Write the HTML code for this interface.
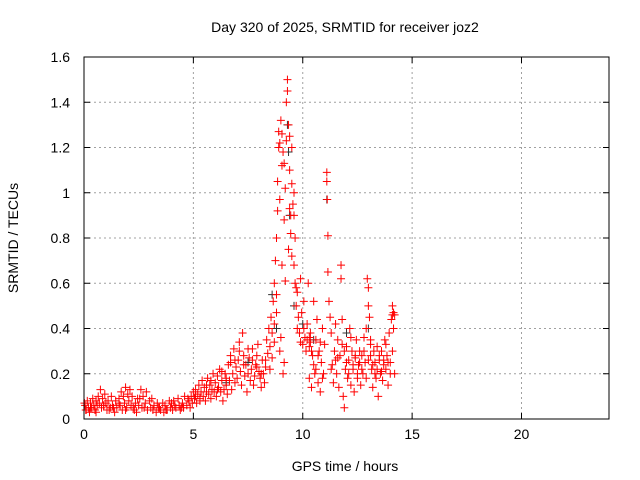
<!DOCTYPE html>
<html><head><meta charset="utf-8"><style>
body{margin:0;background:#fff}
svg{display:block;font-family:"Liberation Sans",sans-serif}
</style></head><body>
<svg id="chart" width="640" height="480">
<text x="345" y="32" text-anchor="middle" font-size="14">Day 320 of 2025, SRMTID for receiver joz2</text>
<text x="345" y="471" text-anchor="middle" font-size="14">GPS time / hours</text>
<text transform="translate(18,238) rotate(-90)" text-anchor="middle" font-size="14">SRMTID / TECUs</text>
<g id="grid"></g><g id="black"></g><g id="red"></g>
<rect x="84" y="57" width="525" height="362" fill="none" stroke="#000" stroke-width="1"/>
<g id="ticks"></g>
</svg>
<script>
const xTicks=[0,5,10,15,20];
const yTicks=[0,0.2,0.4,0.6,0.8,1,1.2,1.4,1.6];
const yTickLabels=["0","0.2","0.4","0.6","0.8","1","1.2","1.4","1.6"];
const redT=[0.02,0.05,0.1,0.15,0.2,0.25,0.3,0.35,0.4,0.45,0.5,0.55,0.6,0.65,0.7,0.75,0.8,0.85,0.9,0.95,1.0,
1.05,1.1,1.2,1.25,1.3,1.4,1.45,1.5,1.6,1.65,1.7,1.75,1.8,1.85,1.9,1.95,2.0,
2.05,2.1,2.15,2.2,2.3,2.35,2.4,2.5,2.55,2.6,2.65,2.7,2.8,2.85,2.9,3.0,
3.05,3.1,3.2,3.3,3.35,3.4,3.5,3.6,3.65,3.7,3.8,3.9,3.95,4.0,
4.05,4.1,4.2,4.3,4.35,4.4,4.5,4.55,4.6,4.7,4.8,4.85,4.9,4.95,5.0,
5.05,5.1,5.15,5.2,5.25,5.3,5.35,5.4,5.45,5.5,5.55,5.6,5.65,5.7,5.75,5.8,5.85,5.9,5.95,6.0,
6.05,6.1,6.15,6.2,6.25,6.3,6.35,6.4,6.45,6.5,6.55,6.6,6.65,6.7,6.75,6.8,6.85,6.9,6.95,7.0,
7.05,7.1,7.15,7.2,7.25,7.3,7.35,7.4,7.45,7.5,7.55,7.6,7.65,7.7,7.75,7.8,7.85,7.9,7.95,8.0,
8.05,8.1,8.15,8.2,8.25,8.3,8.35,8.4,8.45,8.5,8.55,8.6,
8.6,8.65,8.7,8.7,8.75,8.8,8.8,8.85,8.85,8.9,8.9,8.95,8.95,9.0,9.0,9.05,9.05,9.1,9.1,9.15,9.15,9.2,9.2,9.25,9.3,9.3,9.35,9.35,9.4,9.4,9.45,9.45,9.5,9.5,9.55,9.6,9.6,9.65,9.65,9.7,9.7,
9.75,9.8,9.85,9.9,9.95,10.0,10.05,10.1,10.15,10.2,10.25,10.3,
10.3,10.35,10.4,10.45,10.5,10.55,10.6,10.65,10.7,10.75,10.8,10.85,10.9,10.95,11.0,
11.1,11.1,11.12,11.15,11.15,11.2,11.25,11.3,11.35,11.4,11.45,11.5,
11.55,11.6,11.65,11.7,11.75,11.75,11.8,11.85,11.9,11.95,12.0,12.05,12.1,12.15,12.2,12.25,12.3,12.35,12.4,12.45,12.5,
12.55,12.6,12.65,12.7,12.75,12.8,12.85,12.9,12.95,13.0,13.0,13.05,13.1,13.1,13.15,13.2,13.25,13.3,13.35,13.4,13.45,13.5,
13.55,13.6,13.65,13.7,13.75,13.8,13.85,13.9,13.95,14.0,14.05,14.1,14.1,14.15,14.15,14.2,14.2,
0.08,0.3,0.55,0.9,1.15,1.35,1.6,1.9,2.25,2.45,2.75,3.15,3.45,3.75,4.15,4.45,4.75,
5.1,5.3,5.6,5.8,6.1,6.3,6.5,6.7,6.9,7.1,7.3,7.5,7.7,7.9,8.1,8.3,8.5,
8.7,8.8,8.95,9.05,9.15,9.25,9.4,9.5,9.6,9.75,9.9,10.05,10.2,10.3,10.35,10.4,10.5,10.6,10.7,10.8,10.9,
11.3,11.5,11.6,11.8,11.9,12.0,12.1,12.2,12.3,12.4,12.5,12.6,12.7,12.8,12.9,13.0,13.1,13.2,13.3,13.4,13.5,13.6,13.7,13.8,13.9,14.0,14.1];
const redV=[0.07,0.06,0.04,0.08,0.05,0.03,0.07,0.05,0.09,0.06,0.04,0.08,0.06,0.1,0.07,0.13,0.05,0.09,0.06,0.11,0.07,
0.04,0.08,0.05,0.1,0.06,0.03,0.08,0.05,0.09,0.06,0.12,0.04,0.1,0.07,0.14,0.05,0.11,
0.08,0.13,0.06,0.1,0.04,0.07,0.03,0.06,0.09,0.13,0.05,0.1,0.07,0.12,0.04,0.08,
0.05,0.09,0.06,0.03,0.07,0.05,0.04,0.07,0.03,0.06,0.04,0.08,0.05,0.07,
0.04,0.08,0.05,0.09,0.06,0.04,0.07,0.05,0.1,0.06,0.08,0.05,0.1,0.07,0.12,
0.09,0.13,0.07,0.11,0.15,0.09,0.12,0.17,0.1,0.14,0.08,0.12,0.18,0.11,0.15,0.09,0.13,0.2,0.12,0.16,
0.1,0.19,0.14,0.22,0.12,0.17,0.08,0.13,0.2,0.15,0.11,0.24,0.17,0.28,0.13,0.2,0.31,0.16,0.23,0.18,
0.26,0.34,0.21,0.15,0.38,0.28,0.19,0.24,0.12,0.2,0.27,0.17,0.22,0.31,0.15,0.19,0.24,0.28,0.33,0.21,
0.18,0.14,0.26,0.2,0.16,0.23,0.35,0.29,0.4,0.32,0.45,0.27,
0.38,0.52,0.6,0.42,0.7,0.8,0.55,0.92,1.05,1.2,1.27,0.97,0.3,0.36,1.32,1.12,0.68,1.18,0.2,0.25,0.88,1.02,0.61,1.4,1.5,1.45,1.3,0.75,1.25,1.1,0.9,0.82,1.2,1.04,0.95,0.9,0.68,0.8,0.6,0.58,0.5,
0.56,0.45,0.38,0.62,0.47,0.33,0.52,0.36,0.3,0.42,0.6,0.36,
0.18,0.34,0.14,0.28,0.52,0.2,0.35,0.44,0.16,0.3,0.12,0.25,0.4,0.2,0.33,
1.09,1.05,0.97,0.81,0.65,0.52,0.45,0.38,0.24,0.16,0.3,0.42,
0.2,0.35,0.14,0.28,0.68,0.62,0.44,0.1,0.05,0.22,0.32,0.18,0.26,0.4,0.15,0.3,0.22,0.12,0.27,0.35,0.18,
0.24,0.3,0.15,0.28,0.2,0.36,0.25,0.4,0.62,0.58,0.5,0.45,0.35,0.28,0.22,0.14,0.3,0.25,0.18,0.32,0.1,0.26,
0.2,0.3,0.17,0.24,0.35,0.22,0.28,0.15,0.38,0.25,0.44,0.5,0.46,0.47,0.4,0.46,0.2,
0.04,0.05,0.03,0.06,0.04,0.05,0.07,0.04,0.05,0.09,0.05,0.04,0.05,0.04,0.06,0.05,0.09,
0.1,0.08,0.15,0.17,0.13,0.21,0.18,0.25,0.26,0.3,0.24,0.31,0.26,0.23,0.2,0.26,0.22,
0.34,0.47,1.22,1.26,1.13,1.23,0.93,0.72,1.0,0.4,0.34,0.4,0.35,0.32,0.38,0.3,0.24,0.22,0.28,0.34,0.18,0.22,
0.26,0.27,0.33,0.3,0.25,0.2,0.36,0.24,0.28,0.2,0.25,0.22,0.3,0.18,0.26,0.33,0.24,0.2,0.22,0.28,0.21,0.26,0.33,0.25,0.2,0.3,0.33];
const blackT=[6.5,7.5,8.6,8.8,9.3,9.35,9.4,9.6,10.0,10.5,11.1,12.0,13.0];
const blackV=[0.16,0.25,0.55,0.4,1.3,1.18,0.9,0.5,0.42,0.35,0.97,0.38,0.4];

const X0=84,X1=609,Y0=419,Y1=57;
const xs=t=>X0+t/24*(X1-X0);
const ys=v=>Y0-v/1.6*(Y0-Y1);
const NS="http://www.w3.org/2000/svg";
function mk(tag,attrs,parent){const e=document.createElementNS(NS,tag);for(const k in attrs)e.setAttribute(k,attrs[k]);parent.appendChild(e);return e;}
const grid=document.getElementById('grid'),ticks=document.getElementById('ticks');
xTicks.forEach((t,i)=>{const x=xs(t);
 if(t>0){const g=mk('line',{x1:x,x2:x,y1:Y0,y2:Y1,stroke:'#a0a0a0','stroke-dasharray':'2,3'},grid);
 
 }
 mk('line',{x1:x,x2:x,y1:Y0,y2:Y0-6,stroke:'#000'},ticks);
 mk('line',{x1:x,x2:x,y1:Y1,y2:Y1+6,stroke:'#000'},ticks);
 const l=mk('text',{x:x,y:Y0+20,'text-anchor':'middle','font-size':'14'},ticks);l.textContent=String(t);
 
 
});
yTicks.forEach((v,i)=>{const y=ys(v);
 if(v>0&&v<1.6){const g=mk('line',{x1:X0,x2:X1,y1:y,y2:y,stroke:'#a0a0a0','stroke-dasharray':'2,3'},grid);
 
 }
 mk('line',{x1:X0,x2:X0+6,y1:y,y2:y,stroke:'#000'},ticks);
 mk('line',{x1:X1,x2:X1-6,y1:y,y2:y,stroke:'#000'},ticks);
 const l=mk('text',{x:X0-14,y:y+5,'text-anchor':'end','font-size':'14'},ticks);l.textContent=yTickLabels[i];
 
 
});
function plus(T,V,color,gid,name){const g=document.getElementById(gid);
 T.forEach((t,i)=>{const x=xs(t),y=ys(V[i]);
  const p=mk('path',{d:`M${x-4},${y}h8M${x},${y-4}v8`,stroke:color,'stroke-width':'1',fill:'none'},g);
  
  
 });}
plus(blackT,blackV,'#333','black','black-point');
plus(redT,redV,'#ff0000','red','srmtid-point');
</script>
</body></html>
